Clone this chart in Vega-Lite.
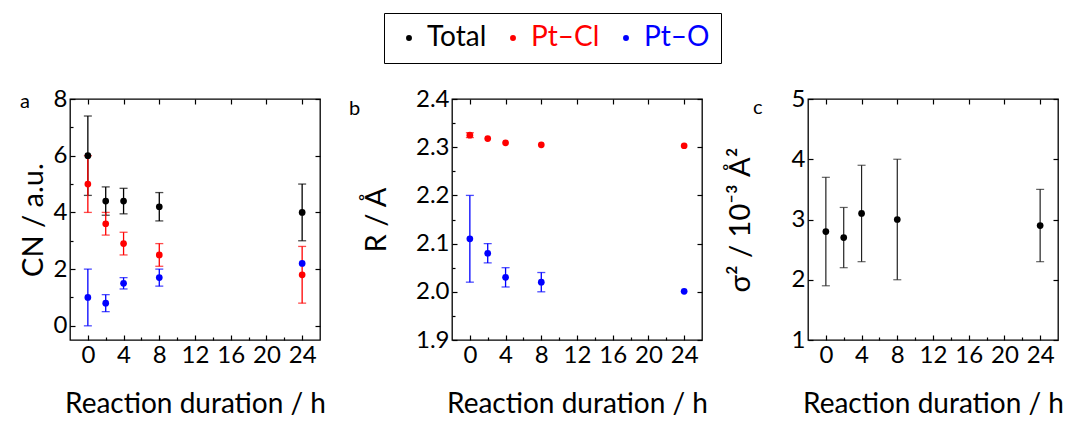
{
  "$schema": "https://vega.github.io/schema/vega-lite/v6.json",
  "padding": {"left": 18, "top": 12, "right": 0, "bottom": 0},
  "datasets": {
    "pts": [
      {"panel": "a", "s": "Total", "t": 0, "v": 6.0, "lo": 4.6, "hi": 7.4},
      {"panel": "a", "s": "Total", "t": 2, "v": 4.4, "lo": 3.9, "hi": 4.9},
      {"panel": "a", "s": "Total", "t": 4, "v": 4.4, "lo": 3.95, "hi": 4.85},
      {"panel": "a", "s": "Total", "t": 8, "v": 4.2, "lo": 3.7, "hi": 4.7},
      {"panel": "a", "s": "Total", "t": 24, "v": 4.0, "lo": 3.0, "hi": 5.0},
      {"panel": "a", "s": "Pt–Cl", "t": 0, "v": 5.0, "lo": 4.0, "hi": 6.0},
      {"panel": "a", "s": "Pt–Cl", "t": 2, "v": 3.6, "lo": 3.2, "hi": 4.0},
      {"panel": "a", "s": "Pt–Cl", "t": 4, "v": 2.9, "lo": 2.5, "hi": 3.3},
      {"panel": "a", "s": "Pt–Cl", "t": 8, "v": 2.5, "lo": 2.1, "hi": 2.9},
      {"panel": "a", "s": "Pt–Cl", "t": 24, "v": 1.8, "lo": 0.8, "hi": 2.8},
      {"panel": "a", "s": "Pt–O", "t": 0, "v": 1.0, "lo": 0.0, "hi": 2.0},
      {"panel": "a", "s": "Pt–O", "t": 2, "v": 0.8, "lo": 0.5, "hi": 1.1},
      {"panel": "a", "s": "Pt–O", "t": 4, "v": 1.5, "lo": 1.3, "hi": 1.7},
      {"panel": "a", "s": "Pt–O", "t": 8, "v": 1.7, "lo": 1.4, "hi": 2.0},
      {"panel": "a", "s": "Pt–O", "t": 24, "v": 2.2},
      {"panel": "b", "s": "Pt–Cl", "t": 0, "v": 2.325, "lo": 2.32, "hi": 2.33},
      {"panel": "b", "s": "Pt–Cl", "t": 2, "v": 2.318},
      {"panel": "b", "s": "Pt–Cl", "t": 4, "v": 2.309},
      {"panel": "b", "s": "Pt–Cl", "t": 8, "v": 2.305},
      {"panel": "b", "s": "Pt–Cl", "t": 24, "v": 2.303},
      {"panel": "b", "s": "Pt–O", "t": 0, "v": 2.11, "lo": 2.02, "hi": 2.2},
      {"panel": "b", "s": "Pt–O", "t": 2, "v": 2.08, "lo": 2.06, "hi": 2.1},
      {"panel": "b", "s": "Pt–O", "t": 4, "v": 2.03, "lo": 2.01, "hi": 2.05},
      {"panel": "b", "s": "Pt–O", "t": 8, "v": 2.02, "lo": 2.0, "hi": 2.04},
      {"panel": "b", "s": "Pt–O", "t": 24, "v": 2.001},
      {"panel": "c", "s": "Total", "t": 0, "v": 2.8, "lo": 1.9, "hi": 3.7},
      {"panel": "c", "s": "Total", "t": 2, "v": 2.7, "lo": 2.2, "hi": 3.2},
      {"panel": "c", "s": "Total", "t": 4, "v": 3.1, "lo": 2.3, "hi": 3.9},
      {"panel": "c", "s": "Total", "t": 8, "v": 3.0, "lo": 2.0, "hi": 4.0},
      {"panel": "c", "s": "Total", "t": 24, "v": 2.9, "lo": 2.3, "hi": 3.5}
    ]
  },
  "config": {
    "font": "Lato",
    "view": {"stroke": "black", "strokeWidth": 1.3},
    "axis": {
      "domain": false, "grid": false,
      "tickColor": "black", "tickWidth": 1.2,
      "labelFontSize": 24, "labelColor": "black", "labelFont": "Lato",
      "titleFontSize": 28, "titleFontWeight": "normal", "titleColor": "black", "titleFont": "Lato",
      "labelPadding": 8
    },
    "title": {"fontSize": 20, "fontWeight": "normal", "color": "black", "anchor": "start", "frame": "group", "offset": 0, "baseline": "alphabetic"}
  },
  "bounds": "flush",
  "spacing": 132,
  "hconcat": [
    {
      "width": 250, "height": 241,
      "title": {"text": "a", "dx": -50, "dy": 29},
      "transform": [{"filter": "datum.panel === 'a'"}],
      "data": {"name": "pts"},
      "resolve": {"axis": {"x": "independent", "y": "independent"}},
      "layer": [
        {
          "transform": [{"filter": "isValid(datum.lo)"}],
          "mark": {"type": "errorbar", "ticks": {"size": 8, "thickness": 1.3}, "thickness": 1.3},
          "encoding": {
            "x": {"field": "t", "type": "quantitative", "scale": {"domain": [-2, 26], "nice": false, "zero": false},
                  "axis": {"orient": "bottom", "title": "Reaction duration / h", "values": [0,2,4,6,8,10,12,14,16,18,20,22,24], "labelExpr": "datum.value % 4 === 0 ? datum.label : ''", "tickSize": {"condition": {"test": "datum.value % 4 === 0", "value": -5}, "value": -3}, "titlePadding": 23}},
            "y": {"field": "lo", "type": "quantitative", "scale": {"domain": [-0.5, 8], "nice": false, "zero": false},
                  "axis": {"orient": "left", "title": "CN / a.u.", "titleFontSize": 29, "values": [0,1,2,3,4,5,6,7,8], "labelExpr": "datum.value % 2 === 0 ? datum.label : ''", "tickSize": {"condition": {"test": "datum.value % 2 === 0", "value": -5}, "value": -3}, "titlePadding": 5}},
            "y2": {"field": "hi"},
            "color": {"field": "s", "type": "nominal", "scale": {"domain": ["Total", "Pt–Cl", "Pt–O"], "range": ["#000000", "#ff0000", "#0000ff"]},
                      "legend": {"orient": "none", "legendX": 314, "legendY": -86, "direction": "horizontal", "title": null,
                                 "strokeColor": "black", "padding": 11, "labelFontSize": 28, "labelFont": "Lato", "symbolSize": 35,
                                 "symbolType": "circle", "symbolStrokeWidth": 0, "columnPadding": 12, "labelOffset": 4,
                                 "encode": {"labels": {"update": {"fill": [{"test": "datum.label === 'Pt–Cl'", "value": "#ff0000"}, {"test": "datum.label === 'Pt–O'", "value": "#0000ff"}, {"value": "#000000"}]}}}}}
          }
        },
        {
          "mark": {"type": "point", "filled": true, "size": 45, "opacity": 1},
          "encoding": {
            "x": {"field": "t", "type": "quantitative", "axis": {"orient": "top", "title": null, "labels": false, "values": [0,4,8,12,16,20,24], "tickSize": -5}},
            "y": {"field": "v", "type": "quantitative", "axis": {"orient": "right", "title": null, "labels": false, "values": [0,2,4,6,8], "tickSize": -5}},
            "color": {"field": "s", "type": "nominal"}
          }
        }
      ]
    },
    {
      "bounds": "flush",
      "spacing": 106,
      "hconcat": [
        {
          "width": 250, "height": 241,
          "title": {"text": "b", "dx": -103, "dy": 36},
          "transform": [{"filter": "datum.panel === 'b'"}],
          "data": {"name": "pts"},
          "resolve": {"axis": {"x": "independent", "y": "independent"}},
          "layer": [
            {
              "transform": [{"filter": "isValid(datum.lo)"}],
              "mark": {"type": "errorbar", "ticks": {"size": 8, "thickness": 1.3}, "thickness": 1.3},
              "encoding": {
                "x": {"field": "t", "type": "quantitative", "scale": {"domain": [-2, 26], "nice": false, "zero": false},
                      "axis": {"orient": "bottom", "title": "Reaction duration / h", "values": [0,2,4,6,8,10,12,14,16,18,20,22,24], "labelExpr": "datum.value % 4 === 0 ? datum.label : ''", "tickSize": {"condition": {"test": "datum.value % 4 === 0", "value": -5}, "value": -3}, "titlePadding": 23}},
                "y": {"field": "lo", "type": "quantitative", "scale": {"domain": [1.9, 2.4], "nice": false, "zero": false},
                      "axis": {"orient": "left", "title": "R / Å", "titleFontSize": 29, "format": ".1f", "values": [1.9,1.95,2.0,2.05,2.1,2.15,2.2,2.25,2.3,2.35,2.4], "labelExpr": "round(datum.value*20) % 2 === 0 ? datum.label : ''", "tickSize": {"condition": {"test": "round(datum.value*20) % 2 === 0", "value": -5}, "value": -3}, "titlePadding": 24}},
                "y2": {"field": "hi"},
                "color": {"field": "s", "type": "nominal"}
              }
            },
            {
              "mark": {"type": "point", "filled": true, "size": 45, "opacity": 1},
              "encoding": {
                "x": {"field": "t", "type": "quantitative", "axis": {"orient": "top", "title": null, "labels": false, "values": [0,4,8,12,16,20,24], "tickSize": -5}},
                "y": {"field": "v", "type": "quantitative", "axis": {"orient": "right", "title": null, "labels": false, "values": [1.9,2.0,2.1,2.2,2.3,2.4], "tickSize": -5}},
                "color": {"field": "s", "type": "nominal"}
              }
            }
          ]
        },
        {
          "width": 250, "height": 241,
          "title": {"text": "c", "dx": -55, "dy": 35},
          "transform": [{"filter": "datum.panel === 'c'"}],
          "data": {"name": "pts"},
          "resolve": {"axis": {"x": "independent", "y": "independent"}},
          "layer": [
            {
              "transform": [{"filter": "isValid(datum.lo)"}],
              "mark": {"type": "errorbar", "ticks": {"size": 8, "thickness": 1.2}, "thickness": 1.2, "color": "#222222"},
              "encoding": {
                "x": {"field": "t", "type": "quantitative", "scale": {"domain": [-2, 26], "nice": false, "zero": false},
                      "axis": {"orient": "bottom", "title": "Reaction duration / h", "values": [0,2,4,6,8,10,12,14,16,18,20,22,24], "labelExpr": "datum.value % 4 === 0 ? datum.label : ''", "tickSize": {"condition": {"test": "datum.value % 4 === 0", "value": -5}, "value": -3}, "titlePadding": 23}},
                "y": {"field": "lo", "type": "quantitative", "scale": {"domain": [1, 5], "nice": false, "zero": false},
                      "axis": {"orient": "left", "title": "σ² / 10⁻³ Å²", "titleFontSize": 29, "format": "d", "values": [1,1.5,2,2.5,3,3.5,4,4.5,5], "labelExpr": "datum.value % 1 === 0 ? datum.label : ''", "tickSize": {"condition": {"test": "datum.value % 1 === 0", "value": -5}, "value": -3}, "titlePadding": 36}},
                "y2": {"field": "hi"}
              }
            },
            {
              "mark": {"type": "point", "filled": true, "size": 45, "opacity": 1},
              "encoding": {
                "x": {"field": "t", "type": "quantitative", "axis": {"orient": "top", "title": null, "labels": false, "values": [0,4,8,12,16,20,24], "tickSize": -5}},
                "y": {"field": "v", "type": "quantitative", "axis": {"orient": "right", "title": null, "labels": false, "values": [1,2,3,4,5], "tickSize": -5}},
                "color": {"field": "s", "type": "nominal"}
              }
            }
          ]
        }
      ]
    }
  ]
}
